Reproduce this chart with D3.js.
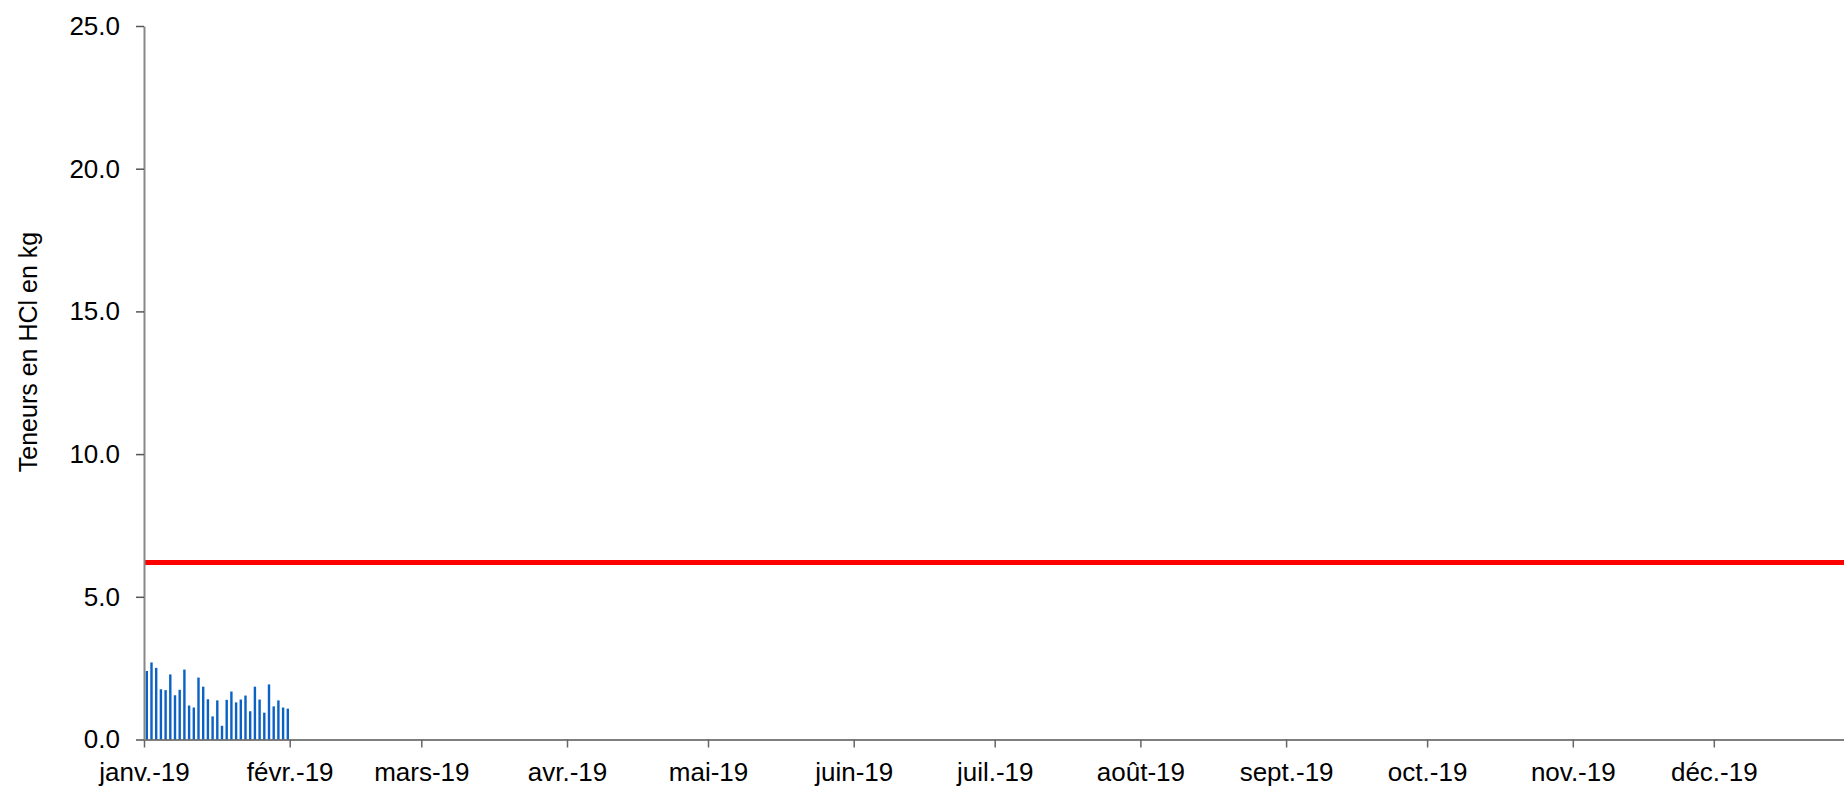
<!DOCTYPE html>
<html>
<head>
<meta charset="utf-8">
<script src="https://cdn.jsdelivr.net/npm/d3@7"></script>
<style>
  body { margin: 0; background: #fff; overflow: hidden; }
  svg { display: block; }
  text { font-family: "Liberation Sans", Arial, sans-serif; fill: #000; }
</style>
</head>
<body>
<div id="chart"></div>
<script>
// daily HCl values for January 2019 (kg)
var janValues = [2.40, 2.70, 2.51, 1.76, 1.73, 2.28, 1.55, 1.74, 2.45, 1.19,
                 1.12, 2.17, 1.85, 1.41, 0.81, 1.37, 0.48, 1.39, 1.68, 1.30,
                 1.40, 1.54, 0.99, 1.85, 1.40, 0.94, 1.93, 1.16, 1.37, 1.12, 1.08];
var startDay = new Date(2019, 0, 1);
var limitValue = 6.2;
var monthLabels = ["janv.-19", "févr.-19", "mars-19", "avr.-19", "mai-19", "juin-19",
                   "juil.-19", "août-19", "sept.-19", "oct.-19", "nov.-19", "déc.-19"];
var yTicks = [0, 5, 10, 15, 20, 25];

var W = 1844, H = 788;
var x0 = 144, dayPx = 4.7;   // plot starts at the y axis
var yTop = 26, yBottom = 739.5;

var data = janValues.map(function(v, i) {
  return { date: d3.timeDay.offset(startDay, i), value: v };
});

var svg = d3.select("#chart").append("svg")
  .attr("width", W)
  .attr("height", H);

var xscale = d3.scaleTime()
  .domain([startDay, new Date(2020, 0, 1)])
  .range([x0, x0 + 365 * dayPx]);

var yscale = d3.scaleLinear()
  .domain([0, 25])
  .range([yBottom, yTop]);

// bars
svg.selectAll(".bar")
  .data(data)
  .enter()
  .append("rect")
  .attr("class", "bar")
  .attr("x", function(d) { return xscale(d.date) + 1.6; })
  .attr("width", 2.4)
  .attr("y", function(d) { return yscale(d.value); })
  .attr("height", function(d) { return yBottom - yscale(d.value); })
  .attr("fill", "#0b62c4");

// limit line
svg.append("line")
  .attr("x1", xscale(startDay))
  .attr("x2", xscale(new Date(2020, 0, 1)))
  .attr("y1", yscale(limitValue))
  .attr("y2", yscale(limitValue))
  .attr("stroke", "#ff0000")
  .attr("stroke-width", 5);

// x axis
var months = d3.timeMonth.range(startDay, new Date(2020, 0, 1));
var xaxis = d3.axisBottom(xscale)
  .tickValues(months)
  .tickFormat(function(d, i) { return monthLabels[i]; })
  .tickSize(8)
  .tickSizeOuter(0)
  .tickPadding(15);

var gx = svg.append("g")
  .attr("class", "x_axis")
  .attr("transform", "translate(0," + yBottom + ")")
  .call(xaxis);
gx.select(".domain").attr("stroke", "#555").attr("stroke-width", 1.5);
gx.selectAll(".tick line").attr("stroke", "#666").attr("stroke-width", 1.5);
gx.selectAll("text").attr("font-size", "26px").attr("fill", "#000")
  .style("font-family", "'Liberation Sans', Arial, sans-serif");

// y axis
var yaxis = d3.axisLeft(yscale)
  .tickValues(yTicks)
  .tickFormat(d3.format(".1f"))
  .tickSize(8)
  .tickSizeOuter(0)
  .tickPadding(16);

var gy = svg.append("g")
  .attr("class", "y_axis")
  .attr("transform", "translate(" + x0 + ",0)")
  .call(yaxis);
gy.select(".domain").attr("stroke", "#888").attr("stroke-width", 2);
gy.selectAll(".tick line").attr("stroke", "#555").attr("stroke-width", 1.5);
gy.selectAll("text").attr("font-size", "26px").attr("fill", "#000")
  .style("font-family", "'Liberation Sans', Arial, sans-serif");

// y axis title
svg.append("text")
  .attr("transform", "translate(37,352) rotate(-90)")
  .attr("text-anchor", "middle")
  .attr("font-size", "25px")
  .text("Teneurs en HCl en kg");
</script>
</body>
</html>
